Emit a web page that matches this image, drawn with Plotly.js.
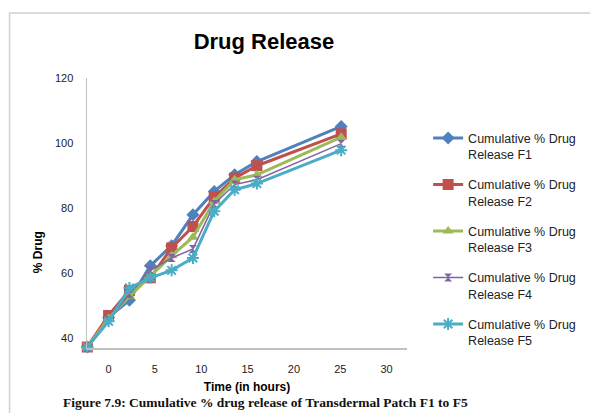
<!DOCTYPE html>
<html>
<head>
<meta charset="utf-8">
<script src="https://cdn.plot.ly/plotly-3.0.1.min.js"></script>
<style>html,body{margin:0;padding:0;background:#fff;}#chart{width:590px;height:413px;}</style>
</head>
<body>
<div id="chart"></div>
<script>
// Time (hours)
var timeHours = [-2.3, 0, 2.25, 4.5, 6.8, 9.1, 11.4, 13.6, 16, 25.1];
// Cumulative % drug release
var releaseF1 = [37.2, 46.3, 51.6, 62.2, 68.4, 77.9, 85.1, 90.2, 94.3, 105.1];
var releaseF2 = [37.2, 46.9, 54.6, 58.5, 67.7, 74.3, 83.3, 89.2, 93.0, 102.8];
var releaseF3 = [37.2, 46.0, 52.8, 59.0, 65.3, 71.0, 82.0, 88.7, 90.2, 101.8];
var releaseF4 = [37.2, 45.5, 53.5, 60.8, 64.6, 67.4, 81.2, 87.2, 88.7, 99.8];
var releaseF5 = [37.2, 45.1, 55.4, 58.5, 60.8, 64.6, 79.0, 85.6, 87.5, 97.8];
var seriesNames = [
  "Cumulative % Drug<br>Release F1",
  "Cumulative % Drug<br>Release F2",
  "Cumulative % Drug<br>Release F3",
  "Cumulative % Drug<br>Release F4",
  "Cumulative % Drug<br>Release F5"
];
var xTickVals = [0, 5, 10, 15, 20, 25, 30];
var yTickVals = [40, 60, 80, 100, 120];

var colors = ["#4F81BD", "#C0504D", "#9BBB59", "#8064A2", "#4BACC6"];
var symbols = ["diamond", "square", "triangle-up", "hourglass", "asterisk-open"];
var sizes = [10, 11, 10, 8, 10];
var widths = [3, 3, 3, 1.5, 3];
var allY = [releaseF1, releaseF2, releaseF3, releaseF4, releaseF5];

var traces = allY.map(function (ys, i) {
  return {
    type: "scatter",
    mode: "lines+markers",
    x: timeHours,
    y: ys,
    name: seriesNames[i],
    legendgroup: "g" + i,
    cliponaxis: false,
    line: {color: colors[i], width: widths[i]},
    marker: {
      symbol: symbols[i], size: sizes[i], color: colors[i],
      line: {color: colors[i], width: i === 4 ? 2 : 0}
    }
  };
});

var font = "Arial, 'Liberation Sans', sans-serif";
var layout = {
  width: 590, height: 413,
  margin: {l: 87, r: 183, t: 78, b: 65, autoexpand: false},
  paper_bgcolor: "#ffffff",
  plot_bgcolor: "#ffffff",
  font: {family: font, size: 11, color: "#222"},
  title: {
    text: "<b>Drug Release</b>",
    font: {family: font, size: 22, color: "#000"},
    xref: "paper", x: 0.553, xanchor: "center",
    yref: "container", y: 0.9, yanchor: "middle"
  },
  xaxis: {
    range: [-2.33, 32.2],
    tickmode: "array", tickvals: xTickVals,
    showgrid: false, zeroline: false,
    showline: true, linecolor: "#c0c0c0", linewidth: 1.5,
    ticks: "", ticklabelstandoff: 10,
    tickfont: {family: font, size: 11, color: "#222"},
    title: {text: "<b>Time (in hours)</b>", font: {family: font, size: 12, color: "#000"}, standoff: 9}
  },
  yaxis: {
    range: [36.9, 120],
    tickmode: "array", tickvals: yTickVals,
    showgrid: false, zeroline: false,
    showline: true, linecolor: "#c0c0c0", linewidth: 1.5,
    ticks: "", ticklabelstandoff: 10,
    tickfont: {family: font, size: 11, color: "#222"}
  },
  legend: {
    x: 1.066, xanchor: "left",
    y: 0.832, yanchor: "top",
    valign: "top",
    traceorder: "grouped",
    tracegroupgap: 11,
    bgcolor: "rgba(0,0,0,0)",
    font: {family: font, size: 12.5, color: "#222"}
  },
  shapes: [{
    type: "rect", xref: "paper", yref: "paper",
    x0: -0.242, x1: 2, y0: -1, y1: 1.241,
    line: {color: "#d0d0d0", width: 1.5},
    layer: "below"
  }],
  annotations: [
    {
      text: "<b>% Drug</b>", textangle: -90,
      xref: "paper", yref: "paper", x: -0.153, y: 0.355,
      xanchor: "center", yanchor: "middle", showarrow: false,
      font: {family: font, size: 12, color: "#000"}
    },
    {
      text: "<b>Figure 7.9: Cumulative % drug release of Transdermal Patch F1 to F5</b>",
      xref: "paper", yref: "paper", x: 0.559, y: -0.2385,
      xanchor: "center", yanchor: "bottom", showarrow: false,
      font: {family: "'Liberation Serif', 'Times New Roman', serif", size: 13.5, color: "#111"}
    }
  ],
  showlegend: true
};

Plotly.newPlot("chart", traces, layout, {displayModeBar: false, staticPlot: true});
</script>
</body>
</html>
